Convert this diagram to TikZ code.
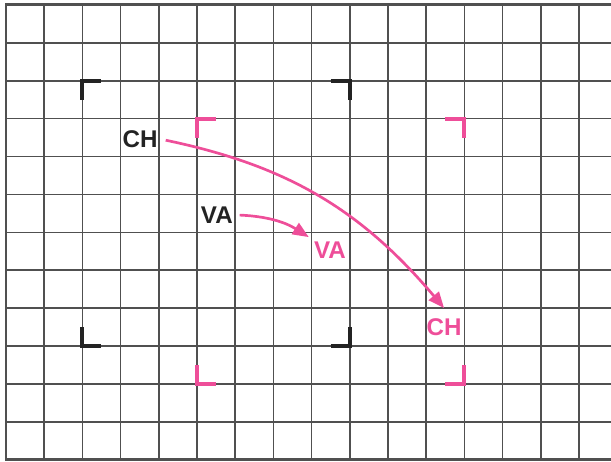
\documentclass[tikz,border=0pt]{standalone}
\usepackage{fontspec}
\setmainfont{Liberation Sans}
\usepackage{xcolor}
\usepackage{tikz}
\definecolor{screenpink}{RGB}{238, 78, 153}
\definecolor{markblack}{RGB}{35, 35, 35}
\definecolor{gridgray}{RGB}{80, 80, 80}
\usetikzlibrary{arrows.meta, calc}

\begin{document}
\begin{tikzpicture}[
    x=1cm, y=0.9925cm,
    gridline/.style={draw=gridgray, line width=1.2pt},
    frameline/.style={draw=gridgray, line width=2.2pt},
    blackcorner/.style={draw=markblack, line width=3pt, line cap=butt, miter limit=10},
    pinkcorner/.style={draw=screenpink, line width=3pt, line cap=butt, miter limit=10},
    blacklabel/.style={text=markblack, font=\bfseries\fontsize{18}{18}\selectfont, inner sep=2pt},
    pinklabel/.style={text=screenpink, font=\bfseries\fontsize{18}{18}\selectfont, inner sep=2pt},
    arrow/.style={-{Triangle[length=0.42cm, width=0.34cm]}, draw=screenpink, line width=2pt}
]
    \useasboundingbox (-0.157,-0.053) rectangle (15.84,12.13);

    % Screen grid
    \draw[gridline, step=1] (0,0) grid (15.84,12);
    \draw[frameline] (15.84,12) -- (0,12) -- (0,0) -- (15.84,0);

    % Old picture corners
    \draw[blackcorner] (2,9.5) -- (2,10) -- (2.5,10);
    \draw[blackcorner] (8.5,10) -- (9,10) -- (9,9.5);
    \draw[blackcorner] (2,3.5) -- (2,3) -- (2.5,3);
    \draw[blackcorner] (8.5,3) -- (9,3) -- (9,3.5);

    % New picture corners
    \draw[pinkcorner] (5,8.5) -- (5,9) -- (5.5,9);
    \draw[pinkcorner] (11.5,9) -- (12,9) -- (12,8.5);
    \draw[pinkcorner] (5,2.5) -- (5,2) -- (5.5,2);
    \draw[pinkcorner] (11.5,2) -- (12,2) -- (12,2.5);

    % Labels
    \node[blacklabel] (chold) at (3.51,8.46) {CH};
    \node[blacklabel] (vaold) at (5.52,6.46) {VA};
    \node[pinklabel] (vanew) at (8.48,5.54) {VA};
    \node[pinklabel] (chnew) at (11.47,3.5) {CH};

    % Arrows
    \draw[arrow, shorten <=4pt] (chold.east) to[bend left=19] ($(chnew.north)+(0,0.2)$);
    \draw[arrow, shorten <=3pt, shorten >=2pt] (vaold.east) to[bend left=15] (vanew.north west);
\end{tikzpicture}
\end{document}
